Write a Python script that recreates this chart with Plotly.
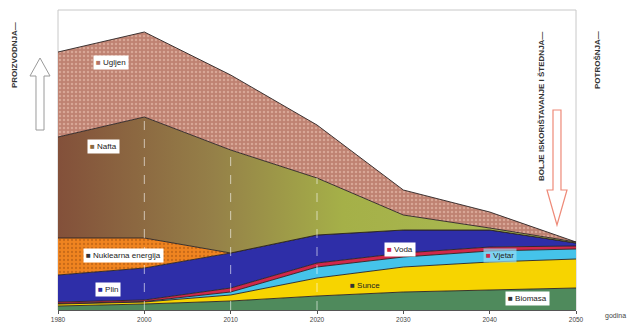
import numpy as np
import plotly.graph_objects as go

years = ["1980", "2000", "2010", "2020", "2030", "2040", "2050"]
biomasa = [4, 6, 9, 14, 18, 20, 22]
sunce = [2, 2, 6, 18, 25, 28, 29]
vjetar = [0.5, 0.5, 3, 11, 10, 11, 10]
voda = [1.5, 1.5, 4, 4, 4, 4, 3]
plin = [27, 32, 35, 28, 23, 17, 3]
nuklearna = [37, 30, 0, 0, 0, 0, 0]
nafta = [101, 121, 103, 57, 15, 2, 1]
ugljen = [85, 85, 75, 53, 25, 16, 0]

series = [
    ("Biomasa", biomasa, "#4f8a5c"),
    ("Sunce", sunce, "#f7d400"),
    ("Vjetar", vjetar, "#45c3ea"),
    ("Voda", voda, "#d0284a"),
    ("Plin", plin, "#2e2ea8"),
    ("Nuklearna energija", nuklearna, "#f08424"),
    ("Nafta", nafta, "#8c8a40"),
    ("Ugljen", ugljen, "#bd8272"),
]

x = list(range(len(years)))
fig = go.Figure()
for name, vals, col in series:
    kw = dict(fillcolor=col)
    if name == "Ugljen":
        kw["fillpattern"] = dict(shape=".", bgcolor="#bf8272", fgcolor="#d8a696",
                                 size=4, solidity=0.3, fillmode="replace")
    if name == "Nuklearna energija":
        kw["fillpattern"] = dict(shape=".", bgcolor="#f08420", fgcolor="#c86a18",
                                 size=4, solidity=0.25, fillmode="replace")
    if name == "Nafta":
        kw = dict(fillgradient=dict(type="horizontal",
                                    colorscale=[[0, "#83503a"], [0.3, "#958048"],
                                                [0.55, "#a5b048"], [1, "#aabd55"]]))
    fig.add_trace(go.Scatter(
        x=x, y=vals, name=name, mode="lines", stackgroup="one",
        line=dict(color="#2a2222", width=0.9), showlegend=False, **kw))

cum = np.cumsum(np.array([biomasa, sunce, vjetar, voda, plin, nuklearna, nafta]), axis=0)
nafta_top = cum[-1]
for i in [1, 2, 3]:
    fig.add_trace(go.Scatter(x=[x[i], x[i]], y=[0, nafta_top[i]], mode="lines",
                             line=dict(color="rgba(255,255,255,0.75)", width=0.8, dash="dash"),
                             showlegend=False, hoverinfo="skip"))

L, R, T, B = 58, 576, 10, 310
W, H = 627, 324


def px(xp):
    return (xp - L) / (R - L)


def py(yp):
    return (B - yp) / (B - T)


labels = [
    ("Ugljen", 111, 62, "#b37565", "white"),
    ("Nafta", 103, 146, "#8c6a40", "white"),
    ("Nuklearna energija", 123, 255, "#333333", "white"),
    ("Plin", 108, 289, "#2c2c9e", "white"),
    ("Voda", 400, 249, "#d0284a", "white"),
    ("Vjetar", 500, 255, "#d0284a", "rgba(150,220,245,0.7)"),
    ("Sunce", 365, 285, "#333333", "rgba(255,255,255,0)"),
    ("Biomasa", 527, 298, "#333333", "white"),
]
for txt, xp, yp, sq, bg in labels:
    fig.add_annotation(x=px(xp), y=py(yp), xref="paper", yref="paper",
                       xanchor="center", yanchor="middle",
                       text=f"<span style='color:{sq}'>■</span> {txt}",
                       showarrow=False, font=dict(size=8, color="#222222", family="Arial"),
                       bgcolor=bg, borderpad=2)

rot = [
    ("PROIZVODNJA—", 14, 55),
    ("BOLJE ISKORIŠTAVANJE I ŠTEDNJA—", 541, 107),
    ("POTROŠNJA—", 598, 60),
]
for txt, xp, yp in rot:
    fig.add_annotation(x=px(xp), y=py(yp), xref="paper", yref="paper", text=f"<b>{txt}</b>",
                       textangle=-90, showarrow=False, xanchor="center", yanchor="middle",
                       font=dict(size=8, color="#333333", family="Arial"))

fig.add_annotation(x=px(603), y=py(316), xref="paper", yref="paper", text="godina",
                   xanchor="left", yanchor="middle", showarrow=False,
                   font=dict(size=7, color="#444444", family="Arial"))


def arrow_path(cx, tip, base, head_end, shaft_w, head_w):
    pts = [(cx - shaft_w / 2, base), (cx - shaft_w / 2, head_end), (cx - head_w / 2, head_end),
           (cx, tip), (cx + head_w / 2, head_end), (cx + shaft_w / 2, head_end),
           (cx + shaft_w / 2, base)]
    d = "M " + " L ".join(f"{px(a):.4f},{py(b):.4f}" for a, b in pts) + " Z"
    return d


fig.add_shape(type="path", xref="paper", yref="paper",
              path=arrow_path(40, 58, 130, 76, 8, 20),
              line=dict(color="#9a9a9a", width=1), fillcolor="white")
fig.add_shape(type="path", xref="paper", yref="paper",
              path=arrow_path(557, 225, 110, 190, 8, 20),
              line=dict(color="#ee8a78", width=1.2), fillcolor="white")

fig.update_layout(
    width=W, height=H,
    margin=dict(l=L, r=W - R, t=T, b=H - B),
    paper_bgcolor="white", plot_bgcolor="white",
    xaxis=dict(range=[0, len(years) - 1], tickvals=x, ticktext=years,
               showgrid=False, zeroline=False, showline=True, linecolor="#555555",
               mirror=False, ticks="outside", ticklen=3, tickcolor="#555555",
               ticklabelstandoff=0, automargin=False,
               tickfont=dict(size=6.5, color="#444444", family="Arial")),
    yaxis=dict(range=[0, 300], showgrid=False, zeroline=False, showticklabels=False,
               showline=False, automargin=False),
)
fig.add_shape(type="rect", xref="paper", yref="paper", x0=0, y0=0, x1=1, y1=1,
              line=dict(color="#c8c8c8", width=1), layer="below")

fig.write_html("out.html")
